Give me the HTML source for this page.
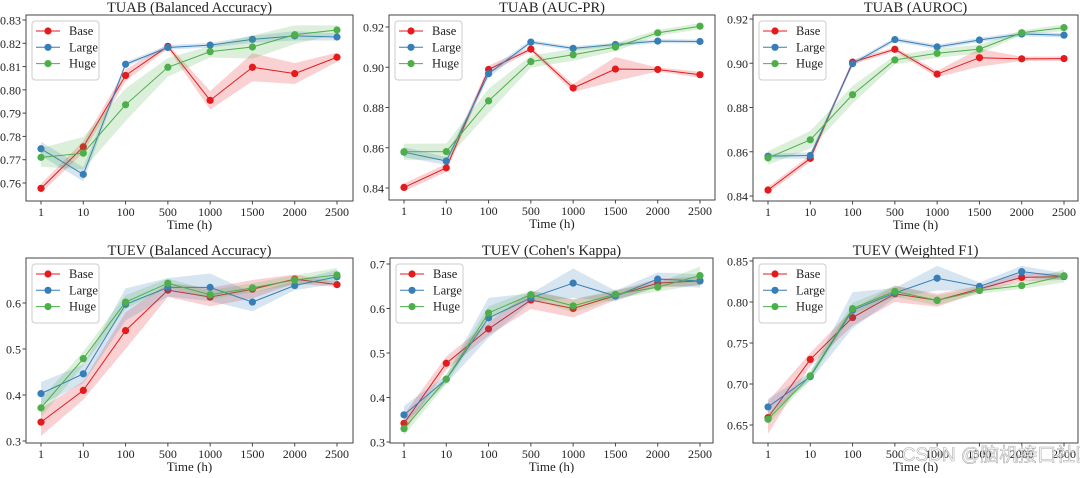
<!DOCTYPE html>
<html><head><meta charset="utf-8"><style>
html,body{margin:0;padding:0;background:#fff;}
svg text{font-family:"Liberation Serif","DejaVu Serif",serif;fill:#222;}
</style></head><body>
<svg id="fig" width="1080" height="473" viewBox="0 0 1080 473" xmlns="http://www.w3.org/2000/svg">
<text x="998" y="461" font-size="19" style="font-family:'Liberation Sans','Noto Sans CJK SC',sans-serif;fill:#fff;stroke:#999;stroke-width:0.6;opacity:0.8" text-anchor="middle">CSDN @脑机接口社区</text>
</svg>
<script>
const categories = ["1","10","100","500","1000","1500","2000","2500"];
const seriesNames = ["Base","Large","Huge"];
// Panel 1: TUAB Balanced Accuracy
const p1Base = [0.7577,0.7755,0.8062,0.8187,0.7955,0.8097,0.8070,0.8140];
const p1Large = [0.7747,0.7637,0.8110,0.8182,0.8192,0.8217,0.8232,0.8227];
const p1Huge = [0.7710,0.7728,0.7936,0.8097,0.8164,0.8184,0.8237,0.8257];
const p1BaseErr = [0.002,0.0025,0.0025,0.001,0.004,0.006,0.0045,0.002];
const p1LargeErr = [0.003,0.003,0.001,0.001,0.001,0.0015,0.002,0.0015];
const p1HugeErr = [0.004,0.007,0.007,0.004,0.0025,0.005,0.004,0.002];
const p1Ticks = [0.76,0.77,0.78,0.79,0.80,0.81,0.82,0.83];
// Panel 2: TUAB AUC-PR
const p2Base = [0.8403,0.8500,0.8989,0.9090,0.8897,0.8991,0.8989,0.8963];
const p2Large = [0.8578,0.8534,0.8968,0.9125,0.9094,0.9113,0.9130,0.9128];
const p2Huge = [0.8580,0.8581,0.8833,0.9028,0.9062,0.9100,0.9171,0.9204];
const p2BaseErr = [0.002,0.002,0.002,0.001,0.002,0.006,0.001,0.0015];
const p2LargeErr = [0.0025,0.002,0.002,0.001,0.001,0.001,0.001,0.001];
const p2HugeErr = [0.004,0.004,0.006,0.003,0.003,0.002,0.0015,0.0015];
const p2Ticks = [0.84,0.86,0.88,0.90,0.92];
// Panel 3: TUAB AUROC
const p3Base = [0.8427,0.8570,0.9005,0.9063,0.8951,0.9025,0.9020,0.9021];
const p3Large = [0.8580,0.8583,0.8998,0.9107,0.9074,0.9105,0.9132,0.9127];
const p3Huge = [0.8572,0.8654,0.8858,0.9015,0.9045,0.9064,0.9138,0.9161];
const p3BaseErr = [0.0015,0.0015,0.001,0.001,0.0015,0.004,0.001,0.001];
const p3LargeErr = [0.001,0.0015,0.001,0.001,0.001,0.001,0.001,0.001];
const p3HugeErr = [0.003,0.004,0.004,0.002,0.002,0.002,0.001,0.0015];
const p3Ticks = [0.84,0.86,0.88,0.90,0.92];
// Panel 4: TUEV Balanced Accuracy
const p4Base = [0.341,0.410,0.540,0.628,0.613,0.630,0.652,0.640];
const p4Large = [0.403,0.446,0.597,0.634,0.634,0.602,0.638,0.657];
const p4Huge = [0.372,0.479,0.602,0.643,0.618,0.633,0.650,0.661];
const p4BaseErr = [0.03,0.02,0.04,0.015,0.02,0.02,0.01,0.005];
const p4LargeErr = [0.025,0.02,0.035,0.02,0.03,0.02,0.01,0.015];
const p4HugeErr = [0.02,0.015,0.015,0.01,0.01,0.01,0.01,0.015];
const p4Ticks = [0.3,0.4,0.5,0.6];
// Panel 5: TUEV Cohen's Kappa
const p5Base = [0.342,0.477,0.554,0.619,0.600,0.629,0.657,0.662];
const p5Large = [0.361,0.441,0.579,0.624,0.657,0.628,0.666,0.662];
const p5Huge = [0.330,0.441,0.590,0.631,0.606,0.632,0.648,0.674];
const p5BaseErr = [0.02,0.015,0.015,0.02,0.02,0.01,0.01,0.01];
const p5LargeErr = [0.02,0.01,0.045,0.01,0.033,0.012,0.015,0.015];
const p5HugeErr = [0.015,0.01,0.015,0.01,0.015,0.01,0.01,0.02];
const p5Ticks = [0.3,0.4,0.5,0.6,0.7];
// Panel 6: TUEV Weighted F1
const p6Base = [0.659,0.730,0.781,0.810,0.802,0.816,0.830,0.831];
const p6Large = [0.672,0.709,0.790,0.811,0.829,0.819,0.837,0.831];
const p6Huge = [0.657,0.710,0.792,0.813,0.802,0.814,0.820,0.832];
const p6BaseErr = [0.02,0.008,0.01,0.01,0.008,0.004,0.005,0.004];
const p6LargeErr = [0.01,0.005,0.022,0.006,0.015,0.005,0.007,0.004];
const p6HugeErr = [0.006,0.005,0.007,0.007,0.006,0.004,0.004,0.008];
const p6Ticks = [0.65,0.70,0.75,0.80,0.85];

const colors = ["#e41a1c","#377eb8","#4daf4a"];
const NS = "http://www.w3.org/2000/svg";
const svg = document.getElementById("fig");
const wm = svg.lastElementChild;

function mk(tag, attrs, parent){
  const e = document.createElementNS(NS, tag);
  for (const k in attrs) e.setAttribute(k, attrs[k]);
  (parent||svg).appendChild(e);
  return e;
}

const panels = [
 {title:"TUAB (Balanced Accuracy)", key:"tuab-bacc", box:[26,15,353,201], x0:41, x1:337, v0:0.76, py0:183, v1:0.83, py1:20, ticks:p1Ticks, dec:2, s:[p1Base,p1Large,p1Huge], e:[p1BaseErr,p1LargeErr,p1HugeErr]},
 {title:"TUAB (AUC-PR)", key:"tuab-aucpr", box:[389,15,715,200], x0:404, x1:700, v0:0.84, py0:188, v1:0.92, py1:27, ticks:p2Ticks, dec:2, s:[p2Base,p2Large,p2Huge], e:[p2BaseErr,p2LargeErr,p2HugeErr]},
 {title:"TUAB (AUROC)", key:"tuab-auroc", box:[753,15,1078,201], x0:768, x1:1064, v0:0.84, py0:196, v1:0.92, py1:19, ticks:p3Ticks, dec:2, s:[p3Base,p3Large,p3Huge], e:[p3BaseErr,p3LargeErr,p3HugeErr]},
 {title:"TUEV (Balanced Accuracy)", key:"tuev-bacc", box:[26,258,353,443], x0:41, x1:337, v0:0.3, py0:441, v1:0.6, py1:303, ticks:p4Ticks, dec:1, s:[p4Base,p4Large,p4Huge], e:[p4BaseErr,p4LargeErr,p4HugeErr]},
 {title:"TUEV (Cohen's Kappa)", key:"tuev-kappa", box:[390,258,713,443], x0:404, x1:700, v0:0.3, py0:442, v1:0.7, py1:264, ticks:p5Ticks, dec:1, s:[p5Base,p5Large,p5Huge], e:[p5BaseErr,p5LargeErr,p5HugeErr]},
 {title:"TUEV (Weighted F1)", key:"tuev-f1", box:[753,258,1078,443], x0:768, x1:1064, v0:0.65, py0:425, v1:0.85, py1:261, ticks:p6Ticks, dec:2, s:[p6Base,p6Large,p6Huge], e:[p6BaseErr,p6LargeErr,p6HugeErr]}
];

panels.forEach(p=>{
  const g = mk("g",{});
  
  
  const [L,T,R,B] = p.box;
  const xs = i => p.x0 + i*(p.x1-p.x0)/(categories.length-1);
  const ys = v => p.py0 + (v-p.v0)*(p.py1-p.py0)/(p.v1-p.v0);
  const cid = "clip-"+p.key;
  const cp = mk("clipPath",{id:cid},g);
  mk("rect",{x:L,y:T,width:R-L,height:B-T},cp);
  p.s.forEach((vals,si)=>{
    const err = p.e[si];
    let up = vals.map((v,i)=>xs(i)+","+ys(v+err[i]));
    let dn = vals.map((v,i)=>xs(i)+","+ys(v-err[i])).reverse();
    const band = mk("polygon",{points:up.concat(dn).join(" "),fill:colors[si],"fill-opacity":0.2,stroke:"none","clip-path":"url(#"+cid+")"},g);
    
    
    const line = mk("polyline",{points:vals.map((v,i)=>xs(i)+","+ys(v)).join(" "),fill:"none",stroke:colors[si],"stroke-width":1},g);
    
    
    vals.forEach((v,i)=>{
      const c = mk("circle",{cx:xs(i),cy:ys(v),r:3.6,fill:colors[si]},g);
      
      
    });
  });
  const frame = mk("rect",{x:L,y:T,width:R-L,height:B-T,fill:"none",stroke:"#444","stroke-width":1},g);
  
  
  categories.forEach((c,i)=>{
    mk("line",{x1:xs(i),x2:xs(i),y1:B,y2:B+3.5,stroke:"#444"},g);
    const t = mk("text",{x:xs(i),y:B+15,"font-size":12,"text-anchor":"middle"},g);
    t.textContent = c;
    
    
  });
  p.ticks.forEach(v=>{
    mk("line",{x1:L-3.5,x2:L,y1:ys(v),y2:ys(v),stroke:"#444"},g);
    const t = mk("text",{x:L-5,y:ys(v)+4.5,"font-size":12,"text-anchor":"end"},g);
    t.textContent = v.toFixed(p.dec);
    
    
  });
  const xt = mk("text",{x:(L+R)/2,y:B+28,"font-size":13,"text-anchor":"middle"},g);
  xt.textContent = "Time (h)";
  
  
  const tt = mk("text",{x:(L+R)/2,y:T-3,"font-size":14.5,"text-anchor":"middle"},g);
  tt.textContent = p.title;
  
  
  const lg = mk("g",{},g);
  
  
  const lx = L+6, ly = T+6;
  mk("rect",{x:lx,y:ly,width:67,height:59,rx:3,fill:"#fff","fill-opacity":0.85,stroke:"#ccc"},lg);
  seriesNames.forEach((n,si)=>{
    const yy = ly+10+si*16.3;
    const e = mk("g",{},lg);
    
    
    mk("line",{x1:lx+4,x2:lx+28,y1:yy,y2:yy,stroke:colors[si],"stroke-width":1},e);
    mk("circle",{cx:lx+16,cy:yy,r:3.6,fill:colors[si]},e);
    const t = mk("text",{x:lx+37,y:yy+4,"font-size":12.5},e);
    t.textContent = n;
  });
});
svg.appendChild(wm);
</script>
</body></html>
